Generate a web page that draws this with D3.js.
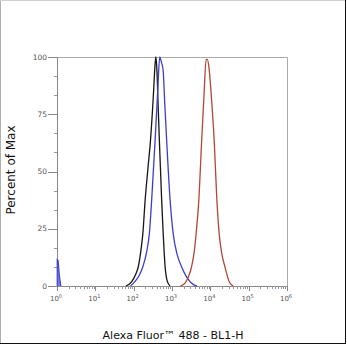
<!DOCTYPE html>
<html><head><meta charset="utf-8">
<script src="https://cdn.jsdelivr.net/npm/d3@7"></script>
<style>html,body{margin:0;padding:0;background:#fff;}svg{display:block;}</style>
</head><body>
<svg id="c" width="347" height="345"></svg>
<script>
// Data: [log10 intensity, percent of max]
const blackSeries = [[1.80,0],[1.95,1.9],[2.05,5],[2.12,8.4],[2.20,17],[2.24,23],[2.30,37.6],[2.37,51],[2.44,63.8],[2.51,82],[2.56,97],[2.58,100],[2.61,93],[2.64,78],[2.67,63.8],[2.73,37.6],[2.77,23],[2.82,8.4],[2.88,1.9],[2.95,0]];
const blueSeries = [[1.92,0],[2.03,1.9],[2.14,4.5],[2.24,8.4],[2.34,15],[2.41,23],[2.47,37.6],[2.56,63.8],[2.63,86],[2.68,100],[2.72,98],[2.77,94],[2.81,80],[2.86,63.8],[2.95,37.6],[3.03,23],[3.13,14],[3.25,8.4],[3.36,4.5],[3.47,1.9],[3.56,0.6],[3.65,0]];
const blueSpike = [[0.005,0],[0.005,11.5],[0.03,11],[0.06,5],[0.1,0]];
const redSeries = [[3.22,0],[3.34,1.3],[3.43,4],[3.51,8.4],[3.58,15],[3.63,23],[3.70,37.6],[3.775,63.8],[3.84,85],[3.89,99],[3.92,99],[3.96,96],[4.03,82],[4.10,63.8],[4.17,37.6],[4.23,23],[4.30,14],[4.38,8.4],[4.45,4],[4.51,1.3],[4.60,0]];
const yTicks = [0,25,50,75,100];
const xDecades = [0,1,2,3,4,5,6];
const yTitle = "Percent of Max";
const xTitle = "Alexa Fluor\u2122 488 - BL1-H";

const svg = d3.select("#c");
const L = 57, R = 287, T = 57, B = 286;
const x = d3.scaleLog().domain([1, 1e6]).range([L, R]);
const y = d3.scaleLinear().domain([0, 100]).range([B, T]);

// outer frame
svg.append("line").attr("x1",0.5).attr("y1",0.5).attr("x2",0.5).attr("y2",343).attr("stroke","#b0b0b0");
svg.append("line").attr("x1",0.5).attr("y1",0.5).attr("x2",345).attr("y2",0.5).attr("stroke","#d0d0d0");
svg.append("line").attr("x1",345.5).attr("y1",0).attr("x2",345.5).attr("y2",344).attr("stroke","#111").attr("stroke-width",1);
svg.append("line").attr("x1",0).attr("y1",343.5).attr("x2",346).attr("y2",343.5).attr("stroke","#111").attr("stroke-width",1);

// plot frame (top/right)
svg.append("path").attr("d",`M${L},${T+0.5}H${R+0.5}V${B}`).attr("fill","none").attr("stroke","#aaa");

// Y axis
const gy = svg.append("g");
gy.append("line").attr("x1",L+0.5).attr("x2",L+0.5).attr("y1",T).attr("y2",B+0.5).attr("stroke","#888");
const yMinor = d3.range(0, 100.01, 25/3);
gy.selectAll(".ym").data(yMinor).enter().append("line")
  .attr("x1",L-3).attr("x2",L).attr("y1",d=>Math.round(y(d))+0.5).attr("y2",d=>Math.round(y(d))+0.5).attr("stroke","#999");
gy.selectAll(".yM").data(yTicks).enter().append("line")
  .attr("x1",L-9).attr("x2",L).attr("y1",d=>Math.round(y(d))+0.5).attr("y2",d=>Math.round(y(d))+0.5).attr("stroke","#888");
gy.selectAll(".yl").data(yTicks).enter().append("text")
  .attr("x",L-10).attr("y",d=>y(d)+2.5).attr("text-anchor","end")
  .attr("font-family","DejaVu Sans, sans-serif").attr("font-size",7.5).attr("fill","#555").text(d=>d);

// X axis
const gx = svg.append("g");
gx.append("line").attr("x1",L).attr("x2",R+0.5).attr("y1",B+0.5).attr("y2",B+0.5).attr("stroke","#888");
const minors = [];
xDecades.slice(0,-1).forEach(p=>{ for(let k=2;k<=9;k++) minors.push(k*Math.pow(10,p)); });
gx.selectAll(".xm").data(minors).enter().append("line")
  .attr("x1",d=>Math.round(x(d))+0.5).attr("x2",d=>Math.round(x(d))+0.5).attr("y1",B).attr("y2",B+3).attr("stroke","#999");
gx.selectAll(".xM").data(xDecades).enter().append("line")
  .attr("x1",d=>Math.round(x(Math.pow(10,d)))+0.5).attr("x2",d=>Math.round(x(Math.pow(10,d)))+0.5)
  .attr("y1",B).attr("y2",B+5).attr("stroke","#888");
const xl = gx.selectAll(".xl").data(xDecades).enter().append("text")
  .attr("x",d=>x(Math.pow(10,d))-1).attr("y",B+15).attr("text-anchor","middle")
  .attr("font-family","DejaVu Sans, sans-serif").attr("font-size",7).attr("fill","#555");
xl.append("tspan").text("10");
xl.append("tspan").attr("dy",-3).attr("font-size",5).text(d=>d);

// curves
const line = d3.line().x(d=>x(Math.pow(10,d[0]))).y(d=>y(d[1])).curve(d3.curveMonotoneX);
const series = [
  {data: blackSeries, color: "#151515"},
  {data: blueSeries, color: "#3d3dcc"},
  {data: redSeries, color: "#b04838"}
];
svg.append("g").selectAll("path").data(series).enter().append("path")
  .attr("d",d=>line(d.data)).attr("fill","none").attr("stroke",d=>d.color).attr("stroke-width",1.3);
// blue spike at the low end (drawn as a narrow filled peak)
svg.append("path").attr("d", d3.line().x(d=>x(Math.pow(10,d[0]))).y(d=>y(d[1]))(blueSpike))
  .attr("fill","#7a7ae0").attr("stroke","#3d3dcc").attr("stroke-width",1.1);

// titles
svg.append("text").attr("transform",`translate(15,170) rotate(-90)`).attr("text-anchor","middle")
  .attr("font-family","DejaVu Sans, sans-serif").attr("font-size",12).attr("fill","#111").text(yTitle);
svg.append("text").attr("x",173).attr("y",339).attr("text-anchor","middle")
  .attr("font-family","DejaVu Sans, sans-serif").attr("font-size",11).attr("fill","#111").text(xTitle);
</script>
</body></html>
